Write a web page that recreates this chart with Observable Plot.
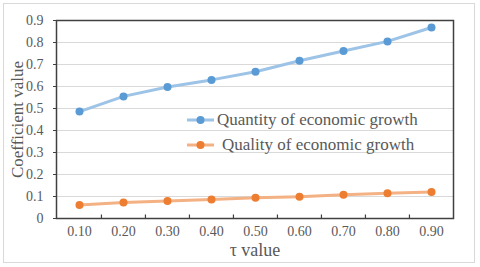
<!DOCTYPE html>
<html>
<head>
<meta charset="utf-8">
<script src="https://cdn.jsdelivr.net/npm/d3@7"></script>
<script src="https://cdn.jsdelivr.net/npm/@observablehq/plot@0.6"></script>
<style>
  html, body { margin: 0; padding: 0; background: #fff; }
  #wrap { position: relative; width: 480px; height: 267px; }
  #wrap svg text { font-family: "Liberation Serif", "Times New Roman", "DejaVu Serif", serif; }
  #border { position: absolute; left: 3px; top: 3px; width: 470px; height: 258px; border: 1px solid #d9d9d9; pointer-events: none; }
  #legend { position: absolute; left: 187px; top: 107px; font-family: "Liberation Serif", "Times New Roman", "DejaVu Serif", serif; font-size: 17px; color: #595959; }
  #legend .row { display: flex; align-items: center; height: 25px; white-space: nowrap; }
  #legend svg { margin-right: 3px; }
</style>
</head>
<body>
<div id="wrap"><div id="border"></div><div id="legend"></div></div>
<script>
const taus = ["0.10", "0.20", "0.30", "0.40", "0.50", "0.60", "0.70", "0.80", "0.90"];
const quantity = [0.486, 0.555, 0.598, 0.630, 0.667, 0.717, 0.761, 0.805, 0.868];
const quality = [0.061, 0.073, 0.080, 0.086, 0.094, 0.099, 0.108, 0.115, 0.120];
const seriesNames = ["Quantity of economic growth", "Quality of economic growth"];
const lineColors = ["#9dc3e6", "#f4b183"];
const dotColors = ["#5b9bd5", "#ed7d31"];
const yTicks = [0, 0.1, 0.2, 0.3, 0.4, 0.5, 0.6, 0.7, 0.8, 0.9];

const rows = taus.flatMap((t, i) => [
  {tau: t, value: quantity[i], series: seriesNames[0]},
  {tau: t, value: quality[i], series: seriesNames[1]}
]);

const W = 480, H = 267, mL = 56, mR = 27, mT = 20, mB = 49;
const halfBand = (W - mL - mR) / taus.length / 2;

const chart = Plot.plot({
  width: W, height: H,
  marginLeft: mL, marginRight: mR, marginTop: mT, marginBottom: mB,
  style: {fontFamily: "'Liberation Serif', 'Times New Roman', serif", background: "transparent", overflow: "visible"},
  x: {type: "band", domain: taus, padding: 0},
  y: {domain: [0, 0.9]},
  color: {domain: seriesNames, range: lineColors},
  marks: [
    Plot.gridY(yTicks.slice(1, -1), {stroke: "#d9d9d9", strokeOpacity: 1, strokeWidth: 1}),
    Plot.axisY(yTicks, {tickSize: 3, tickPadding: 10, stroke: "#404040", fill: "#595959", fontSize: 14,
      tickFormat: d => d === 0 ? "0" : d.toFixed(1), label: null}),
    Plot.axisX(taus, {tickSize: 0, tickPadding: 8, fill: "#595959", fontSize: 14, label: null}),
    Plot.ruleX(taus.slice(1), {x: d => d, y1: 0, y2: 0.016, dx: -halfBand, stroke: "#404040", strokeWidth: 1.2}),
    Plot.line(rows, {x: "tau", y: "value", z: "series", stroke: "series", strokeWidth: 3}),
    Plot.dot(rows, {x: "tau", y: "value", fill: d => dotColors[seriesNames.indexOf(d.series)], r: 4}),
    Plot.frame({stroke: "#404040", strokeWidth: 1.5}),
    Plot.text(["Coefficient value"], {frameAnchor: "left", textAnchor: "middle", rotate: -90, dx: -39, fontSize: 17, fill: "#595959"}),
    Plot.text(["τ value"], {frameAnchor: "bottom", lineAnchor: "middle", dy: 32, fontSize: 18, fill: "#595959"})
  ]
});
document.getElementById("wrap").prepend(chart);

const legend = document.getElementById("legend");
seriesNames.forEach((name, i) => {
  const row = document.createElement("div");
  row.className = "row";
  row.innerHTML = `<svg width="27" height="10"><line x1="0" y1="5" x2="27" y2="5" stroke="${lineColors[i]}" stroke-width="3"/><circle cx="13.5" cy="5" r="4" fill="${dotColors[i]}"/></svg><span style="padding-left:${i === 1 ? 5 : 0}px">${name}</span>`;
  legend.appendChild(row);
});
</script>
</body>
</html>
